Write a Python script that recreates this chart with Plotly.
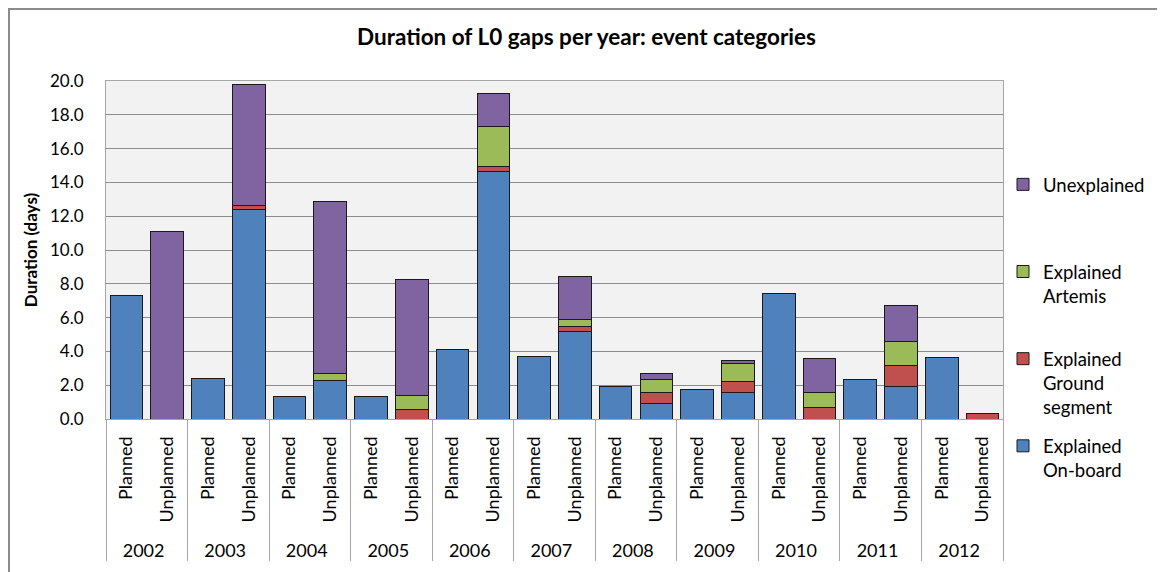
import plotly.graph_objects as go

years = ["2002", "2003", "2004", "2005", "2006", "2007", "2008", "2009", "2010", "2011", "2012"]
gap_types = ["Planned", "Unplanned"]

# values per (year, type), order: 2002 Planned, 2002 Unplanned, 2003 Planned, ...
explained_onboard = [7.32, None, 2.42, 12.40, 1.34, 2.30, 1.34, None, 4.09, 14.65, 3.70, 5.20,
                     1.91, 0.93, 1.73, 1.54, 7.40, None, 2.32, 1.91, 3.66, None]
explained_ground = [None, None, None, 0.24, None, None, None, 0.59, None, 0.29, None, 0.29,
                    None, 0.66, None, 0.70, None, 0.71, None, 1.28, None, 0.35]
explained_artemis = [None, None, None, None, None, 0.42, None, 0.81, None, 2.34, None, 0.42,
                     None, 0.77, None, 1.05, None, 0.85, None, 1.42, None, None]
unexplained = [None, 11.12, None, 7.14, None, 10.13, None, 6.85, None, 1.97, None, 2.55,
               None, 0.36, None, 0.19, None, 2.04, None, 2.08, None, None]

series_names = ["Explained<br>On-board", "Explained<br>Ground<br>segment",
                "Explained<br>Artemis", "Unexplained"]
series_values = [explained_onboard, explained_ground, explained_artemis, unexplained]
series_colors = ["#4F81BD", "#C0504D", "#9BBB59", "#8064A2"]

x_years = [y for y in years for _ in gap_types]
x_types = [t for _ in years for t in gap_types]

FONT = "Lato, 'Open Sans', sans-serif"

W, H = 1157, 564
L, T, PW, PH = 98, 73, 897, 338

fig = go.Figure()
pads = {0: "", 1: "", 2: "<br>\u00a0", 3: "<br>\u00a0<br>\u00a0"}
for i, (name, vals, col) in enumerate(zip(series_names, series_values, series_colors)):
    fig.add_trace(go.Bar(
        x=[x_years, x_types], y=vals, name=name + pads[i],
        legendgroup=f"g{i}", legendrank=len(series_names) - i,
        marker=dict(color=col, line=dict(color="#1a1a1a", width=1)),
    ))

fig.update_layout(
    barmode="stack",
    bargap=0.2,
    width=W, height=H,
    margin=dict(l=L, r=W - L - PW, t=T, b=H - T - PH, autoexpand=False),
    paper_bgcolor="white",
    plot_bgcolor="#F2F2F2",
    font=dict(family=FONT, size=17, color="#000000"),
    title=dict(text="<b>Duration of L0 gaps per year: event categories</b>",
               x=0.5, xanchor="center", y=1 - 29 / H, yanchor="middle", yref="container",
               font=dict(size=22.5, family=FONT, color="#000")),
    legend=dict(x=1.0, xanchor="left", y=0.749, yanchor="top",
                traceorder="grouped", tracegroupgap=12, valign="top",
                font=dict(size=18.5, family=FONT), itemwidth=30,
                bgcolor="rgba(0,0,0,0)"),
    showlegend=True,
)

fig.update_yaxes(
    range=[0, 20], dtick=2, tickformat=".1f",
    showgrid=True, gridcolor="#8C8C8C", gridwidth=1,
    showline=True, linecolor="#A6A6A6", linewidth=1, mirror=True,
    ticks="", ticklabelstandoff=18,
    tickfont=dict(size=17, family=FONT),
    title=dict(text="<b>Duration (days)</b>", standoff=8, font=dict(size=17, family=FONT)),
    zeroline=False,
)
fig.update_xaxes(
    type="multicategory",
    tickangle=-90,
    showline=True, linecolor="#A6A6A6", linewidth=1, mirror=True,
    showdividers=True, dividercolor="#A6A6A6", dividerwidth=1,
    tickfont=dict(size=18, family=FONT),
    ticks="", ticksuffix="\u00a0\u00a0",
)

# outer chart-area border (left and top edges visible; continues past the right/bottom)
fig.add_shape(type="rect", xref="paper", yref="paper",
              x0=(1 - L) / PW, x1=(W + 20 - L) / PW,
              y0=-(H + 20 - T - PH) / PH, y1=1 + (T - 1) / PH,
              line=dict(color="#8C8C8C", width=2), fillcolor="rgba(0,0,0,0)", layer="below")

fig.write_html("out.html")
